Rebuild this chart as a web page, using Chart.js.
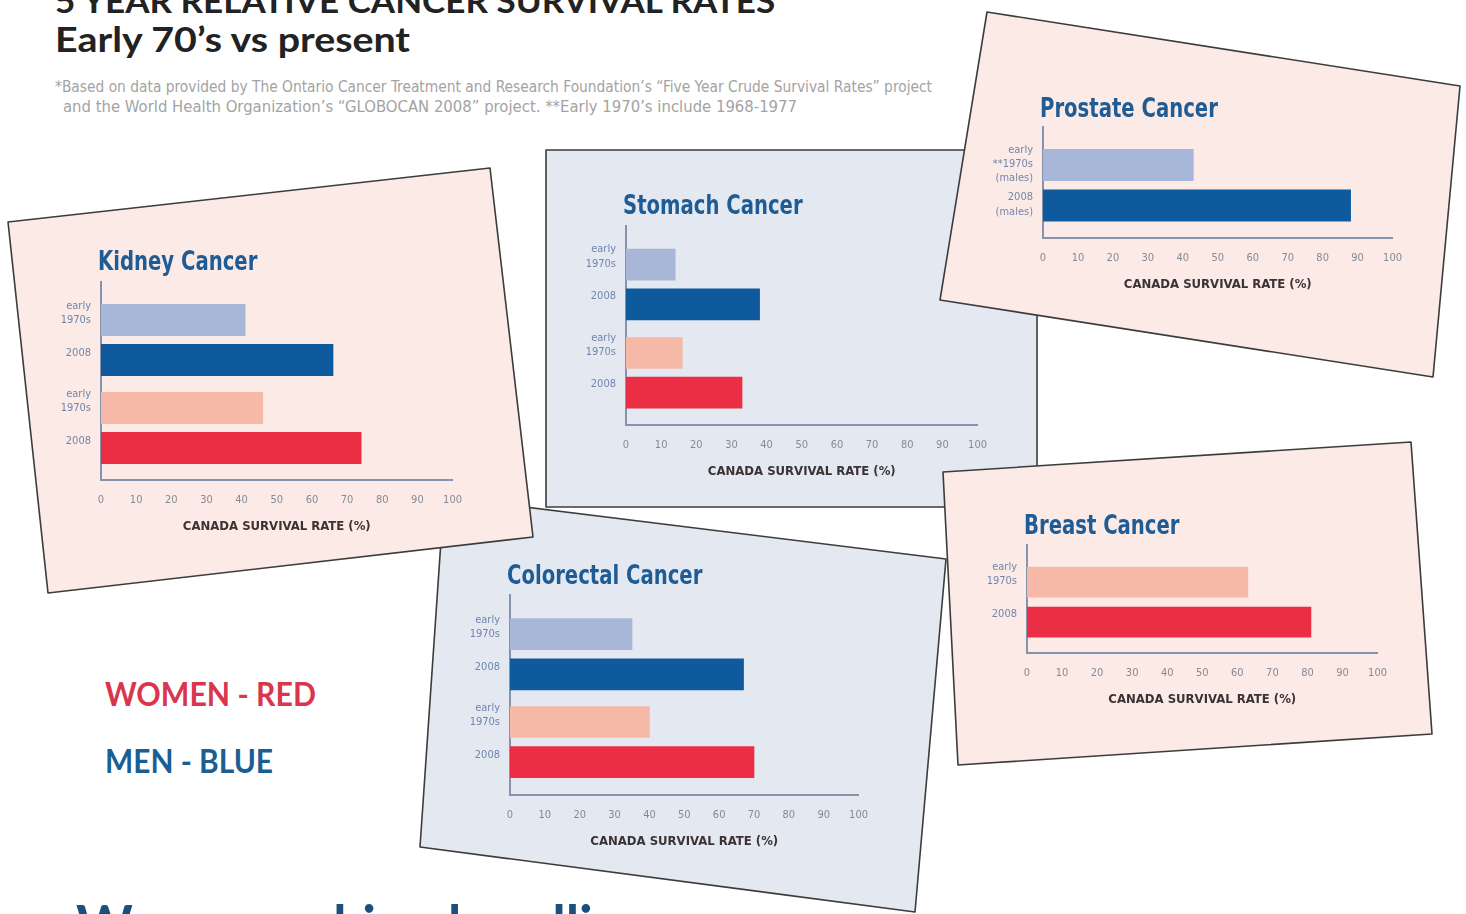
<!DOCTYPE html>
<html>
<head>
<meta charset="utf-8">
<script src="https://cdn.jsdelivr.net/npm/chart.js@4.4.1/dist/chart.umd.min.js"></script>
<style>
html,body{margin:0;padding:0;background:#fff;}
body{width:1466px;height:914px;overflow:hidden;position:relative;}
#bg{position:absolute;left:0;top:0;}
canvas{position:absolute;}
</style>
</head>
<body>
<svg id="bg" width="1466" height="914" xmlns="http://www.w3.org/2000/svg">
  <g stroke="#3c3c3c" stroke-width="1.6" stroke-linejoin="round">
    <polygon points="546,150 1037,150 1037,507 546,507" fill="#e3e8f1"/>
    <polygon points="444,497 946,559 915,912 420,847" fill="#e3e8f1"/>
    <polygon points="8,222 490,168 533,537 48,593" fill="#fbeae5"/>
    <polygon points="987,12 1460,86 1433,377 940,300" fill="#fbeae5"/>
    <polygon points="943,472 1411,442 1432,734 958,765" fill="#fbeae5"/>
  </g>
  <g font-family="Lato, 'Open Sans', sans-serif" font-weight="700">
    <text id="t1" x="55" y="13" font-size="33" fill="#222" textLength="735" lengthAdjust="spacingAndGlyphs"></text>
    <text id="t2" x="55" y="52" font-size="35" fill="#222" textLength="355" lengthAdjust="spacingAndGlyphs"></text>
    <text id="lw" x="105" y="706" font-size="32" fill="#d9364e" textLength="211" lengthAdjust="spacingAndGlyphs"></text>
    <text id="lm" x="105" y="773" font-size="32" fill="#1b5e94" textLength="168" lengthAdjust="spacingAndGlyphs"></text>
    <text id="bt" x="76" y="945" font-size="56" fill="#1d4f7c" textLength="600" lengthAdjust="spacingAndGlyphs"></text>
  </g>
  <g font-family="'Liberation Sans Narrow', 'DejaVu Sans Condensed', sans-serif" fill="#a3a3a3" font-size="15">
    <text id="n1" x="55" y="92" textLength="877" lengthAdjust="spacingAndGlyphs"></text>
    <text id="n2" x="63" y="112" textLength="734" lengthAdjust="spacingAndGlyphs"></text>
  </g>
</svg>
<script>
// ---------- TEXT ----------
const pageTitle = "5 YEAR RELATIVE CANCER SURVIVAL RATES*";
const pageSubtitle = "Early 70\u2019s vs present";
const noteLine1 = "*Based on data provided by The Ontario Cancer Treatment and Research Foundation\u2019s \u201CFive Year Crude Survival Rates\u201D project";
const noteLine2 = "and the World Health Organization\u2019s \u201CGLOBOCAN 2008\u201D project.  **Early 1970\u2019s include 1968-1977";
const legendWomen = "WOMEN - RED";
const legendMen = "MEN - BLUE";
const bottomText = "We are making headlines";
const axisTitle = "CANADA SURVIVAL RATE (%)";

// ---------- DATA ----------
const kidneyLabels = [["early","1970s"], "2008", ["early","1970s"], "2008"];
const kidneyKeys = ["menEarly", "men2008", "womenEarly", "women2008"];
const kidneyValues = [41, 66, 46, 74];

const stomachLabels = [["early","1970s"], "2008", ["early","1970s"], "2008"];
const stomachKeys = ["menEarly", "men2008", "womenEarly", "women2008"];
const stomachValues = [14, 38, 16, 33];

const prostateLabels = [["early","**1970s","(males)"], ["2008","(males)"]];
const prostateKeys = ["menEarly", "men2008"];
const prostateValues = [43, 88];

const colorectalLabels = [["early","1970s"], "2008", ["early","1970s"], "2008"];
const colorectalKeys = ["menEarly", "men2008", "womenEarly", "women2008"];
const colorectalValues = [35, 67, 40, 70];

const breastLabels = [["early","1970s"], "2008"];
const breastKeys = ["womenEarly", "women2008"];
const breastValues = [63, 81];

// ---------- STYLE ----------
const COLORS = {menEarly:"#a8b7d8", men2008:"#0f5a9d", womenEarly:"#f7b9a7", women2008:"#ec2e45"};
const COND = "'DejaVu Sans Condensed', 'Liberation Sans Narrow', sans-serif";

document.getElementById('t1').textContent = pageTitle;
document.getElementById('t2').textContent = pageSubtitle;
document.getElementById('n1').textContent = noteLine1;
document.getElementById('n2').textContent = noteLine2;
document.getElementById('lw').textContent = legendWomen;
document.getElementById('lm').textContent = legendMen;
document.getElementById('bt').textContent = bottomText;

// card title drawn condensed, anchored to the chart area
const cardTitle = {
  id: 'cardTitle',
  afterDraw(chart, args, o) {
    const {ctx, chartArea} = chart;
    ctx.save();
    ctx.font = 'bold ' + o.size + 'px ' + COND;
    ctx.fillStyle = o.color;
    ctx.textBaseline = 'middle';
    ctx.textAlign = 'left';
    ctx.translate(chartArea.left + o.dx, o.y);
    ctx.scale(o.sx, 1);
    ctx.fillText(o.text, 0, 0);
    ctx.restore();
  }
};

function makeChart(title, labels, values, keys, g) {
  const YW = 70, PR = 20, TH = 50, XH = 70;
  const pos = values.map((v, i) => i + g.gap * Math.floor(i / 2));
  const left = g.x0 - YW, top = g.yTop - TH;
  const w = Math.round(g.x100 - g.x0 + YW + PR), h = Math.round(g.yBot - g.yTop + TH + XH);
  const cv = document.createElement('canvas');
  cv.width = w; cv.height = h;
  cv.style.left = left + 'px'; cv.style.top = top + 'px';
  cv.style.width = w + 'px'; cv.style.height = h + 'px';
  document.body.appendChild(cv);
  new Chart(cv, {
    type: 'bar',
    plugins: [cardTitle],
    data: {
      datasets: [{
        data: values.map((v, i) => ({x: v, y: pos[i]})),
        backgroundColor: keys.map(k => COLORS[k]),
        borderWidth: 0,
        barThickness: g.bar
      }]
    },
    options: {
      indexAxis: 'y',
      responsive: false,
      animation: false,
      devicePixelRatio: 1,
      layout: {padding: {left: 0, right: PR, top: TH, bottom: 0}},
      plugins: {
        legend: {display: false},
        tooltip: {enabled: false},
        title: {display: false},
        cardTitle: {text: title, size: 26, sx: 0.84, dx: -3, y: g.titleY - top + 2, color: '#1f5c96'}
      },
      scales: {
        x: {
          type: 'linear', min: 0, max: 100,
          ticks: {stepSize: 10, color: '#858a95', padding: 14, font: {family: COND, size: 11}},
          grid: {display: false, drawTicks: false},
          border: {display: true, color: '#8593ad', width: 2},
          title: {display: true, text: axisTitle, color: '#3b3333', padding: {top: 0, bottom: 17},
                  font: {family: COND, size: 13, weight: 'bold', lineHeight: 1}},
          afterFit: s => { s.height = XH; }
        },
        y: {
          type: 'linear', reverse: true, offset: false,
          min: (g.yTop - g.c0) / g.u, max: (g.yBot - g.c0) / g.u,
          afterBuildTicks: s => { s.ticks = pos.map(p => ({value: p})); },
          ticks: {
            callback: (v, i) => labels[i],
            color: '#7186ad', padding: 10, labelOffset: g.lo,
            font: {family: COND, size: 11, lineHeight: 1.3}
          },
          grid: {display: false, drawTicks: false, offset: false},
          border: {display: true, color: '#8593ad', width: 2},
          afterFit: s => { s.width = YW; }
        }
      }
    }
  });
}

makeChart("Kidney Cancer", kidneyLabels, kidneyValues, kidneyKeys,
  {x0: 101, x100: 456, yTop: 282, yBot: 480, c0: 320, u: 40, gap: 0.2, bar: 31.5, titleY: 261, lo: -7});
makeChart("Stomach Cancer", stomachLabels, stomachValues, stomachKeys,
  {x0: 626, x100: 981, yTop: 226, yBot: 425, c0: 264.7, u: 39.6, gap: 0.23, bar: 31, titleY: 205, lo: -8});
makeChart("Prostate Cancer", prostateLabels, prostateValues, prostateKeys,
  {x0: 1043, x100: 1396, yTop: 127, yBot: 238, c0: 165, u: 40.5, gap: 0, bar: 31.5, titleY: 108, lo: -1});
makeChart("Colorectal Cancer", colorectalLabels, colorectalValues, colorectalKeys,
  {x0: 509.5, x100: 861, yTop: 595, yBot: 795, c0: 634.2, u: 40.1, gap: 0.19, bar: 31, titleY: 575, lo: -7});
makeChart("Breast Cancer", breastLabels, breastValues, breastKeys,
  {x0: 1027, x100: 1381, yTop: 545, yBot: 653, c0: 582.2, u: 40, gap: 0, bar: 30, titleY: 525, lo: -8});
</script>
</body>
</html>
